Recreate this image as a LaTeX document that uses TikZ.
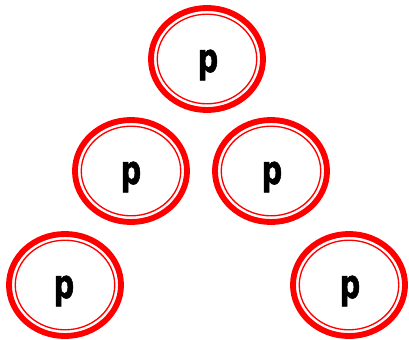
\documentclass[tikz,border=0pt]{standalone}
\usepackage{fontspec}
\setmainfont{DejaVu Sans}
\newfontfamily\heavyfont{DejaVu Sans}[UprightFont=* Bold, FakeBold=1.5]
\usetikzlibrary{shapes.geometric}
\tikzset{
  ring/.style={ellipse, draw=red, line width=4.4pt, inner sep=0pt,
    minimum width=84pt, minimum height=76.5pt,
    path picture={\draw[red, line width=1pt] (path picture bounding box.center) ellipse (37.3pt and 33.6pt);}},
  lbl/.style={inner sep=0pt, font=\fontsize{30}{30}\heavyfont}
}
\newcommand{\pglyph}{\scalebox{0.72}[1]{p}}
\begin{document}
\begin{tikzpicture}[x=0.75pt, y=-0.75pt]
\useasboundingbox (0,0) rectangle (409,339);
\node[ring] (t) at (207,59) {};
\node[ring] (ml) at (131,171) {};
\node[ring] (mr) at (271,171) {};
\node[ring] (bl) at (65,285) {};
\node[ring] (br) at (349,285) {};
\node[lbl] (tt) at (208,65) {\pglyph};
\node[lbl] (mlt) at (131,177) {\pglyph};
\node[lbl] (mrt) at (272,177) {\pglyph};
\node[lbl] (blt) at (64,291) {\pglyph};
\node[lbl] (brt) at (350,291) {\pglyph};
\end{tikzpicture}
\end{document}
